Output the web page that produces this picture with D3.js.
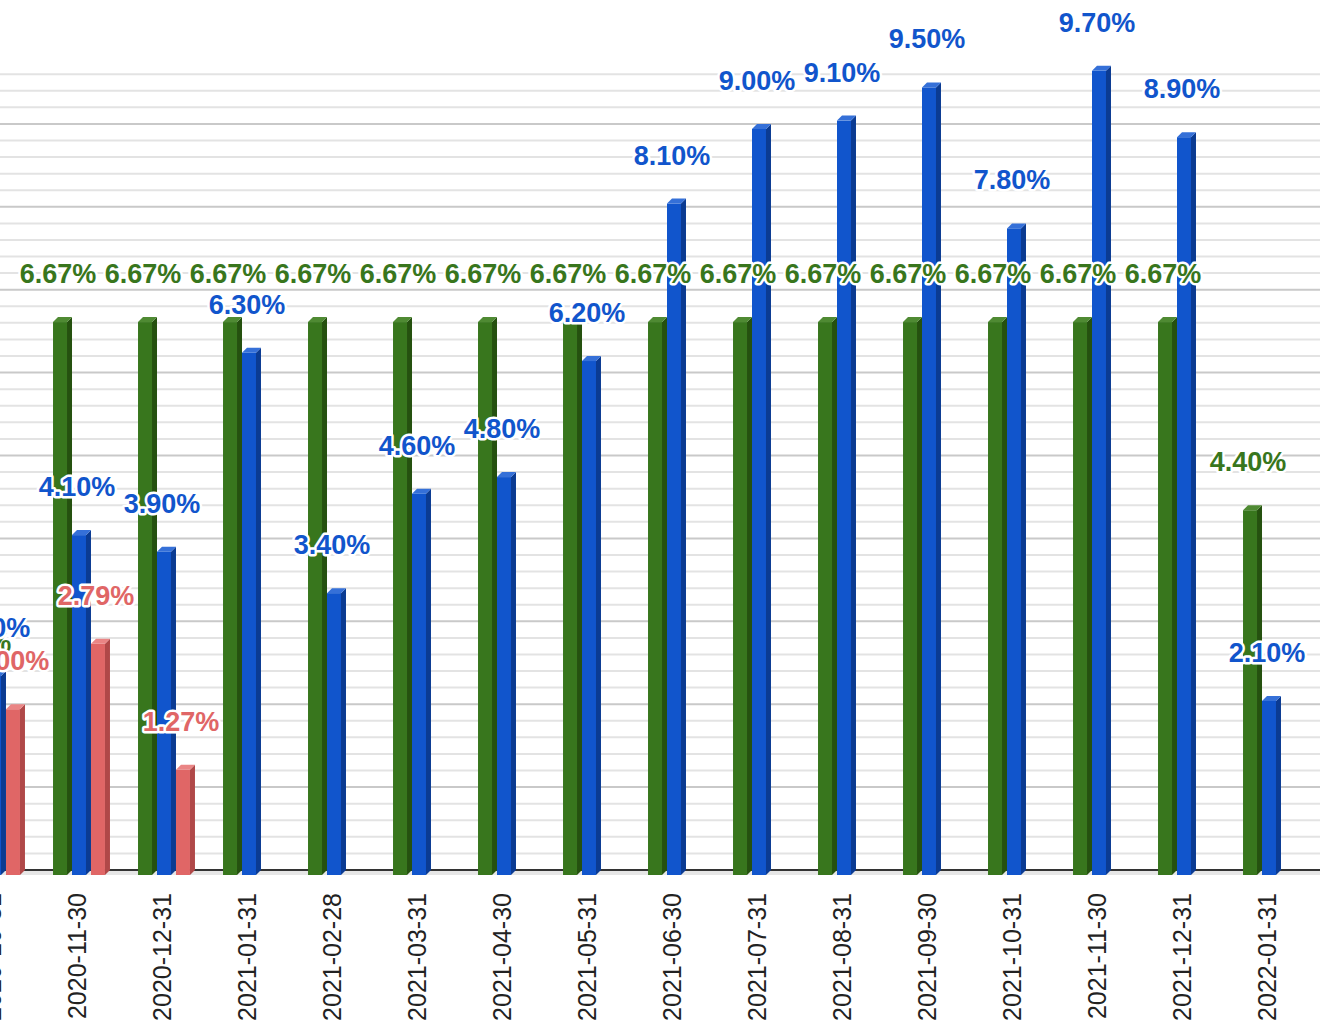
<!DOCTYPE html>
<html>
<head>
<meta charset="utf-8">
<script src="https://cdn.jsdelivr.net/npm/d3@7"></script>
<style>
  html, body { margin: 0; padding: 0; background: #fff; }
</style>
</head>
<body>
<div id="chart"></div>
<script>
// Data
var categories = ["2020-10-31", "2020-11-30", "2020-12-31", "2021-01-31", "2021-02-28",
	"2021-03-31", "2021-04-30", "2021-05-31", "2021-06-30", "2021-07-31", "2021-08-31",
	"2021-09-30", "2021-10-31", "2021-11-30", "2021-12-31", "2022-01-31"];
var greenValues = [2.22, 6.67, 6.67, 6.67, 6.67, 6.67, 6.67, 6.67, 6.67, 6.67, 6.67, 6.67, 6.67, 6.67, 6.67, 4.40];
var blueValues = [2.40, 4.10, 3.90, 6.30, 3.40, 4.60, 4.80, 6.20, 8.10, 9.00, 9.10, 9.50, 7.80, 9.70, 8.90, 2.10];
var redValues = [2.00, 2.79, 1.27, null, null, null, null, null, null, null, null, null, null, null, null, null];
var seriesKeys = ["green", "blue", "red"];

var width = 1320, height = 1028;
var depth = 5;   // 3D offset of the bars and back wall

var colors = {
	green: {front: "#38761d", side: "#25510f", top: "#4f8a33", label: "#38761d"},
	blue: {front: "#1155cc", side: "#0b3b92", top: "#3570d8", label: "#1155cc"},
	red: {front: "#e06666", side: "#b04848", top: "#ea8585", label: "#e06666"}
};

var svg = d3.select("#chart").append("svg")
	.attr("width", width)
	.attr("height", height)
	.style("display", "block");

// Scales (chart is cropped on the left, so range starts off-screen)
var x = d3.scaleBand()
	.domain(categories)
	.range([-46, -46 + categories.length * 85])
	.paddingInner(0.33)
	.paddingOuter(0.165);

var xs = d3.scaleBand()
	.domain(seriesKeys)
	.range([0, x.bandwidth()]);

var y = d3.scaleLinear()
	.domain([0, 10])
	.range([875, 875 - 829]);

// Back wall gridlines
var gridTicks = d3.range(0, 9.61, 0.2);
svg.append("g")
	.selectAll("line")
	.data(gridTicks)
	.enter().append("line")
	.attr("x1", 0)
	.attr("x2", width)
	.attr("y1", d => y(d) - depth)
	.attr("y2", d => y(d) - depth)
	.attr("stroke", d => Math.abs(d - Math.round(d)) < 0.01 ? "#c9c9c9" : "#e3e3e3")
	.attr("stroke-width", 2);

// Floor and axis line
svg.append("rect")
	.attr("x", 0)
	.attr("y", y(0) - depth)
	.attr("width", width)
	.attr("height", depth)
	.attr("fill", "#e6e6e6");

svg.append("line")
	.attr("x1", 0)
	.attr("x2", width)
	.attr("y1", y(0) - depth)
	.attr("y2", y(0) - depth)
	.attr("stroke", "#333")
	.attr("stroke-width", 2);

// Flatten to bar records
var bars = [];
categories.forEach(function(c, i) {
	var vals = {green: greenValues[i], blue: blueValues[i], red: redValues[i]};
	seriesKeys.forEach(function(k) {
		if (vals[k] != null) bars.push({cat: c, key: k, value: vals[k]});
	});
});

var faceW = xs.bandwidth() - depth;

var barG = svg.append("g")
	.selectAll("g")
	.data(bars)
	.enter().append("g");

// front face
barG.append("rect")
	.attr("x", d => x(d.cat) + xs(d.key))
	.attr("y", d => y(d.value))
	.attr("width", faceW)
	.attr("height", d => y(0) - y(d.value))
	.attr("fill", d => colors[d.key].front);

// right side
barG.append("path")
	.attr("d", function(d) {
		var x0 = x(d.cat) + xs(d.key) + faceW;
		var yt = y(d.value), yb = y(0);
		return "M" + x0 + "," + yt + "L" + (x0 + depth) + "," + (yt - depth) +
			"L" + (x0 + depth) + "," + (yb - depth) + "L" + x0 + "," + yb + "Z";
	})
	.attr("fill", d => colors[d.key].side);

// top cap
barG.append("path")
	.attr("d", function(d) {
		var x0 = x(d.cat) + xs(d.key);
		var yt = y(d.value);
		return "M" + x0 + "," + yt + "L" + (x0 + faceW) + "," + yt +
			"L" + (x0 + faceW + depth) + "," + (yt - depth) + "L" + (x0 + depth) + "," + (yt - depth) + "Z";
	})
	.attr("fill", d => colors[d.key].top);

// Value labels
var fmt = d3.format(".2f");
svg.append("g")
	.selectAll("text")
	.data(bars)
	.enter().append("text")
	.attr("x", d => x(d.cat) + xs(d.key) + faceW / 2 - 2)
	.attr("y", d => y(d.value) - 39)
	.attr("text-anchor", "middle")
	.attr("font-family", "'Liberation Sans', Arial, sans-serif")
	.attr("font-weight", "bold")
	.attr("font-size", 27)
	.attr("fill", d => colors[d.key].label)
	.attr("stroke", "#fff")
	.attr("stroke-width", 5)
	.attr("stroke-linejoin", "round")
	.attr("paint-order", "stroke")
	.text(d => fmt(d.value) + "%");

// Category labels, rotated
svg.append("g")
	.selectAll("text")
	.data(categories)
	.enter().append("text")
	.attr("transform", d => "translate(" + (x(d) + x.bandwidth() / 2 - 4) + ",893) rotate(-90)")
	.attr("dy", "0.35em")
	.attr("text-anchor", "end")
	.attr("font-family", "'Liberation Sans', Arial, sans-serif")
	.attr("font-size", 25)
	.attr("fill", "#222")
	.text(d => d);
</script>
</body>
</html>
